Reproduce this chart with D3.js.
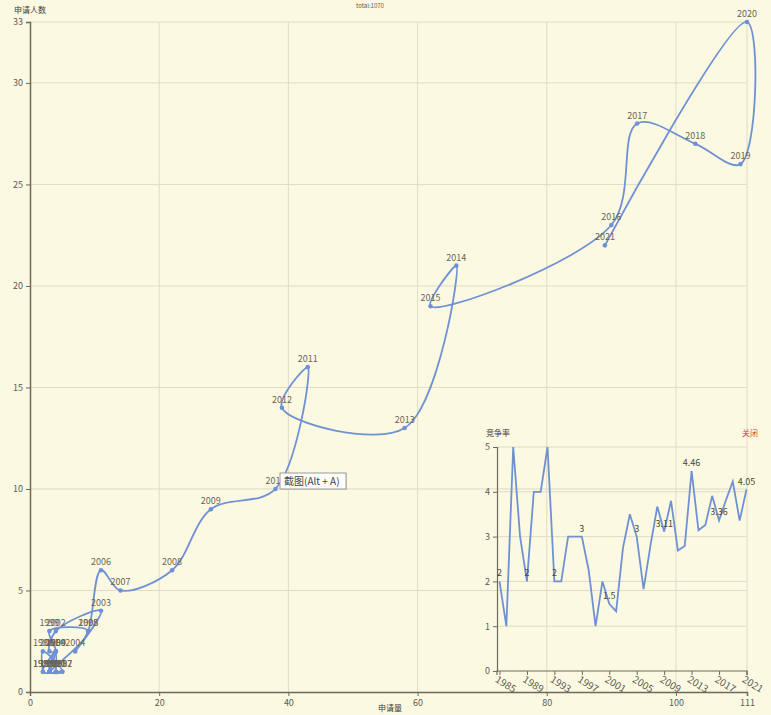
<!DOCTYPE html>
<html>
<head>
<meta charset="utf-8">
<script src="https://cdn.jsdelivr.net/npm/d3@7"></script>
<style>
  body { margin: 0; background: #fbf9e2; }
  svg { display: block; font-family: "Noto Sans CJK SC", "Noto Sans", sans-serif; }
</style>
</head>
<body>
<svg id="chart" width="771" height="715"></svg>
<script>
// year-by-year data
var years = [1985,1986,1987,1988,1989,1990,1991,1992,1993,1994,1995,1996,1997,1998,1999,2000,2001,2002,2003,
             2004,2005,2006,2007,2008,2009,2010,2011,2012,2013,2014,2015,2016,2017,2018,2019,2020,2021];
// 申请量 (x)
var applications = [2,2,5,3,4,4,4,5,2,4,3,3,3,9,3,4,3,4,11,7,9,11,14,22,28,38,43,39,58,66,62,90,94,103,110,111,89];
// 申请人数 (y)
var applicants = [1,2,1,1,2,1,1,1,1,2,1,1,1,3,3,2,2,3,4,2,3,6,5,6,9,10,16,14,13,21,19,23,28,27,26,33,22];
// 竞争率 (inset)
var rates = [2,1,5,3,2,4,4,5,2,2,3,3,3,2.25,1,2,1.5,1.33,2.75,3.5,3,1.83,2.8,3.67,3.11,3.8,2.69,2.79,4.46,
             3.14,3.26,3.91,3.36,3.81,4.23,3.36,4.05];
var totalText = "total:1070";

var xTicks = [0,20,40,60,80,100,111];
var yTicks = [0,5,10,15,20,25,30,33];
var rateTicks = [0,1,2,3,4,5];
var yearTicks = [1985,1989,1993,1997,2001,2005,2009,2013,2017,2021];

var lineColor = "#6f91d4";
var gridColor = "#dedcc6";
var axisColor = "#6e6a5a";
var textColor = "#5e5a50";

var svg = d3.select("#chart");

svg.append("rect").attr("width", 771).attr("height", 715).attr("fill", "#fbf9e2");

var data = years.map(function(y, i){
    return {year: y, x: applications[i], y: applicants[i], rate: rates[i]};
});

var x = d3.scaleLinear().domain([0,111]).range([30,747]);
var y = d3.scaleLinear().domain([0,33]).range([692,22]);

// title
svg.append("text")
    .attr("x", 370).attr("y", 8)
    .attr("text-anchor", "middle")
    .attr("font-size", 6)
    .attr("fill", textColor)
    .text(totalText);

// grid
var grid = svg.append("g");
grid.selectAll(".gx").data(xTicks.slice(1)).enter().append("line")
    .attr("x1", function(d){ return x(d); }).attr("x2", function(d){ return x(d); })
    .attr("y1", y(33)).attr("y2", y(0))
    .attr("stroke", gridColor);
grid.selectAll(".gy").data(yTicks.slice(1)).enter().append("line")
    .attr("x1", x(0)).attr("x2", x(111))
    .attr("y1", function(d){ return y(d); }).attr("y2", function(d){ return y(d); })
    .attr("stroke", gridColor);

// axes
var xAxis = d3.axisBottom(x).tickValues(xTicks).tickSize(4).tickPadding(4);
var yAxis = d3.axisLeft(y).tickValues(yTicks).tickSize(4).tickPadding(3);

var gx = svg.append("g").attr("transform", "translate(0," + y(0) + ")").call(xAxis);
var gy = svg.append("g").attr("transform", "translate(" + x(0) + ",0)").call(yAxis);
[gx, gy].forEach(function(g){
    g.select(".domain").attr("stroke", axisColor).attr("stroke-width", 1.5);
    g.selectAll(".tick line").attr("stroke", axisColor);
    g.selectAll(".tick text").attr("fill", textColor).attr("font-size", 9)
        .attr("font-family", "Noto Sans CJK SC, sans-serif");
});

svg.append("text").attr("x", 14).attr("y", 13)
    .attr("font-size", 8).attr("fill", "#3e3a30").text("申请人数");
svg.append("text").attr("x", 390).attr("y", 711).attr("text-anchor", "middle")
    .attr("font-size", 8).attr("fill", "#3e3a30").text("申请量");

// main line
var line = d3.line()
    .x(function(d){ return x(d.x); })
    .y(function(d){ return y(d.y); })
    .curve(d3.curveCatmullRom.alpha(0.5));

svg.append("path").datum(data)
    .attr("d", line)
    .attr("fill", "none")
    .attr("stroke", lineColor)
    .attr("stroke-width", 1.8);

svg.selectAll(".pt").data(data).enter().append("circle")
    .attr("cx", function(d){ return x(d.x); })
    .attr("cy", function(d){ return y(d.y); })
    .attr("r", 2.3)
    .attr("fill", lineColor);

svg.selectAll(".lbl").data(data).enter().append("text")
    .attr("x", function(d){ return x(d.x); })
    .attr("y", function(d){ return y(d.y) - 5; })
    .attr("text-anchor", "middle")
    .attr("font-size", 9)
    .attr("fill", "#6b6457")
    .text(function(d){ return d.year; });

// inset: 竞争率
var ix = d3.scaleLinear().domain([1985,2021]).range([499.5,746.5]);
var iy = d3.scaleLinear().domain([0,5]).range([671,447]);

var inset = svg.append("g");
inset.selectAll(".igy").data(rateTicks.slice(1)).enter().append("line")
    .attr("x1", 497).attr("x2", 747)
    .attr("y1", function(d){ return iy(d); }).attr("y2", function(d){ return iy(d); })
    .attr("stroke", gridColor);

var iyAxis = d3.axisLeft(iy).tickValues(rateTicks).tickSize(4).tickPadding(3)
    .tickFormat(d3.format("d"));
var ixAxis = d3.axisBottom(ix).tickValues(yearTicks).tickSize(4).tickPadding(1)
    .tickFormat(d3.format("d"));

var giy = inset.append("g").attr("transform", "translate(497,0)").call(iyAxis);
var gix = inset.append("g").attr("transform", "translate(0," + iy(0) + ")").call(ixAxis);
[giy, gix].forEach(function(g){
    g.select(".domain").attr("stroke", axisColor).attr("stroke-width", 1.2);
    g.selectAll(".tick line").attr("stroke", axisColor);
    g.selectAll(".tick text").attr("fill", textColor).attr("font-size", 9)
        .attr("font-family", "Noto Sans CJK SC, sans-serif");
});
gix.select(".domain").attr("d", "M497,4V0H747V4");
gix.selectAll(".tick text")
    .attr("font-size", 10)
    .attr("text-anchor", "start")
    .attr("transform", "translate(1,0) rotate(32)");

var rateLine = d3.line()
    .x(function(d){ return ix(d.year); })
    .y(function(d){ return iy(d.rate); });

inset.append("path").datum(data)
    .attr("d", rateLine)
    .attr("fill", "none")
    .attr("stroke", lineColor)
    .attr("stroke-width", 1.8);

inset.selectAll(".rl").data(data.filter(function(d){ return (d.year - 1985) % 4 == 0; }))
    .enter().append("text")
    .attr("x", function(d){ return ix(d.year); })
    .attr("y", function(d){ return iy(d.rate) - 5; })
    .attr("text-anchor", "middle")
    .attr("font-size", 9)
    .attr("fill", "#4a463c")
    .text(function(d){ return d3.format(".3~")(d.rate); });

inset.append("text").attr("x", 486).attr("y", 436)
    .attr("font-size", 8).attr("fill", "#3e3a30").text("竞争率");
inset.append("text").attr("x", 742).attr("y", 436)
    .attr("font-size", 8).attr("fill", "#e03a3a").text("关闭");

// screenshot hint box
var tip = svg.append("g").attr("transform", "translate(280,473)");
tip.append("rect").attr("x", 1).attr("y", 1).attr("width", 66).attr("height", 16)
    .attr("fill", "#bbb").attr("opacity", 0.5);
tip.append("rect").attr("width", 66).attr("height", 16)
    .attr("fill", "#fdfdfa").attr("stroke", "#9a9a9a");
tip.append("text").attr("x", 4).attr("y", 12)
    .attr("font-size", 10).attr("fill", "#444").text("截图(Alt + A)");
</script>
</body>
</html>
